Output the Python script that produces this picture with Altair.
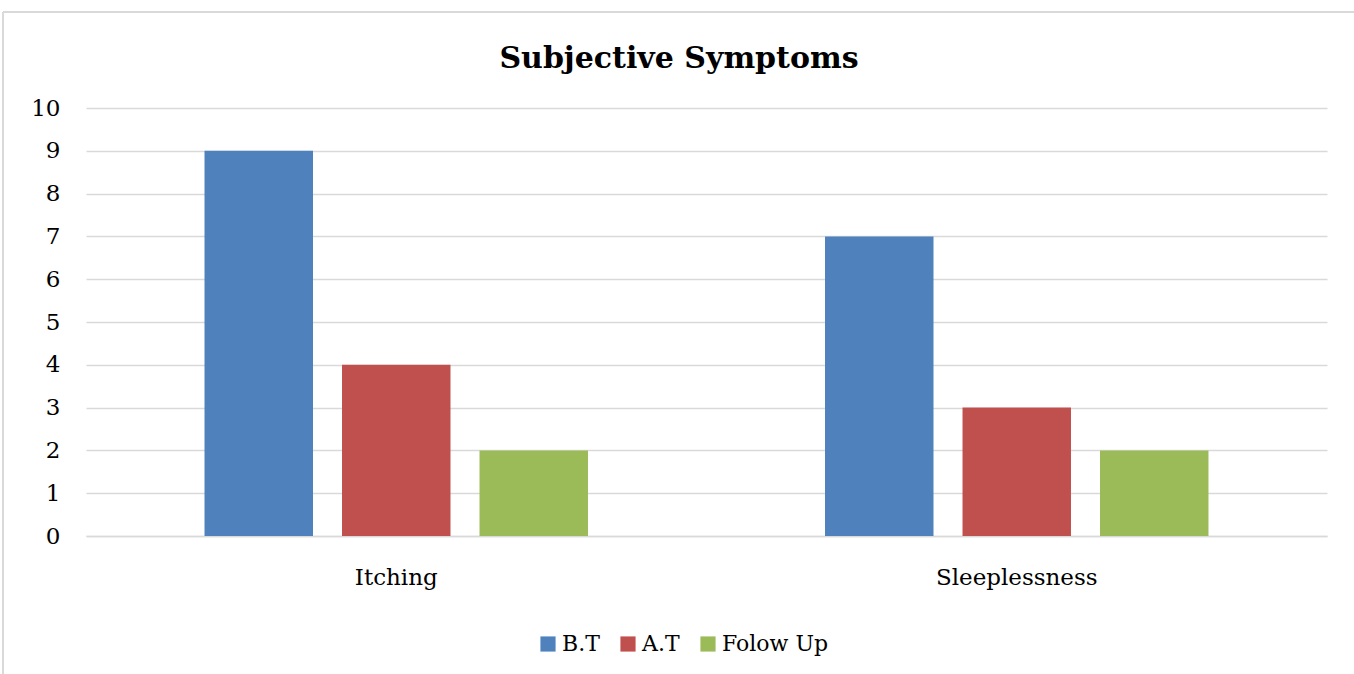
import altair as alt
import pandas as pd

# Symptom scores per assessment stage
symptoms = ["Itching", "Sleeplessness"]
stages = ["B.T", "A.T", "Folow Up"]
bt_scores = [9, 7]
at_scores = [4, 3]
followup_scores = [2, 2]
stage_colors = ["#4F81BD", "#C0504D", "#9BBB59"]
chart_title = "Subjective Symptoms"

rows = []
for series_name, values in zip(stages, [bt_scores, at_scores, followup_scores]):
    for symptom, value in zip(symptoms, values):
        rows.append({"Symptom": symptom, "Stage": series_name, "Score": value})
df = pd.DataFrame(rows)

FONT = "DejaVu Serif"
GRID = "#d9d9d9"

bars = alt.Chart(df).mark_bar().encode(
    x=alt.X(
        "Symptom:N",
        sort=symptoms,
        title=None,
        scale=alt.Scale(paddingInner=0, paddingOuter=0),
        axis=alt.Axis(
            labelAngle=0, ticks=False, domain=True, domainColor=GRID,
            domainWidth=1.5, labelPadding=30, labelFontSize=23,
            labelFont=FONT, labelColor="#000000", grid=False,
        ),
    ),
    xOffset=alt.XOffset(
        "Stage:N", sort=stages,
        scale=alt.Scale(paddingInner=0.211, paddingOuter=0.862),
    ),
    y=alt.Y(
        "Score:Q",
        title=None,
        scale=alt.Scale(domain=[0, 10], nice=False),
        axis=alt.Axis(
            values=list(range(0, 11)), ticks=False, domain=False,
            gridColor=GRID, gridWidth=1.5, labelPadding=26,
            labelFontSize=23, labelFont=FONT, labelColor="#000000",
        ),
    ),
    color=alt.Color(
        "Stage:N", sort=stages,
        scale=alt.Scale(domain=stages, range=stage_colors),
        legend=alt.Legend(
            title=None, orient="none", direction="horizontal",
            legendX=451, legendY=525, symbolType="square", symbolSize=230,
            symbolStrokeWidth=0, labelFont=FONT, labelFontSize=22,
            labelColor="#000000", columnPadding=17, labelOffset=3,
        ),
    ),
)

# Chart heading, drawn as a text mark above the plot area
heading = alt.Chart(pd.DataFrame({"t": [chart_title]})).mark_text(
    font=FONT, fontSize=30, fontWeight="bold", color="#000000",
    align="center", baseline="alphabetic", clip=False,
).encode(text="t:N", x=alt.value(593), y=alt.value(-40))

# Outer chart-area frame: top and left edges
frame_top = alt.Chart(pd.DataFrame({"k": [0]})).mark_rule(
    color=GRID, strokeWidth=2, clip=False
).encode(x=alt.value(-83), x2=alt.value(1300), y=alt.value(-96))
frame_left = alt.Chart(pd.DataFrame({"k": [0]})).mark_rule(
    color=GRID, strokeWidth=2, clip=False
).encode(x=alt.value(-83), y=alt.value(-96), y2=alt.value(600))

chart = alt.layer(frame_top, frame_left, bars, heading).properties(
    width=1241,
    height=428,
    autosize=alt.AutoSizeParams(type="none"),
    padding={"left": 86, "top": 108, "right": 27, "bottom": 138},
    view=alt.ViewBackground(stroke="transparent", strokeWidth=0),
).configure_view(stroke="transparent", strokeWidth=0).configure(background="#ffffff")

chart.save("out.html", embed_options={"renderer": "svg", "actions": False})
